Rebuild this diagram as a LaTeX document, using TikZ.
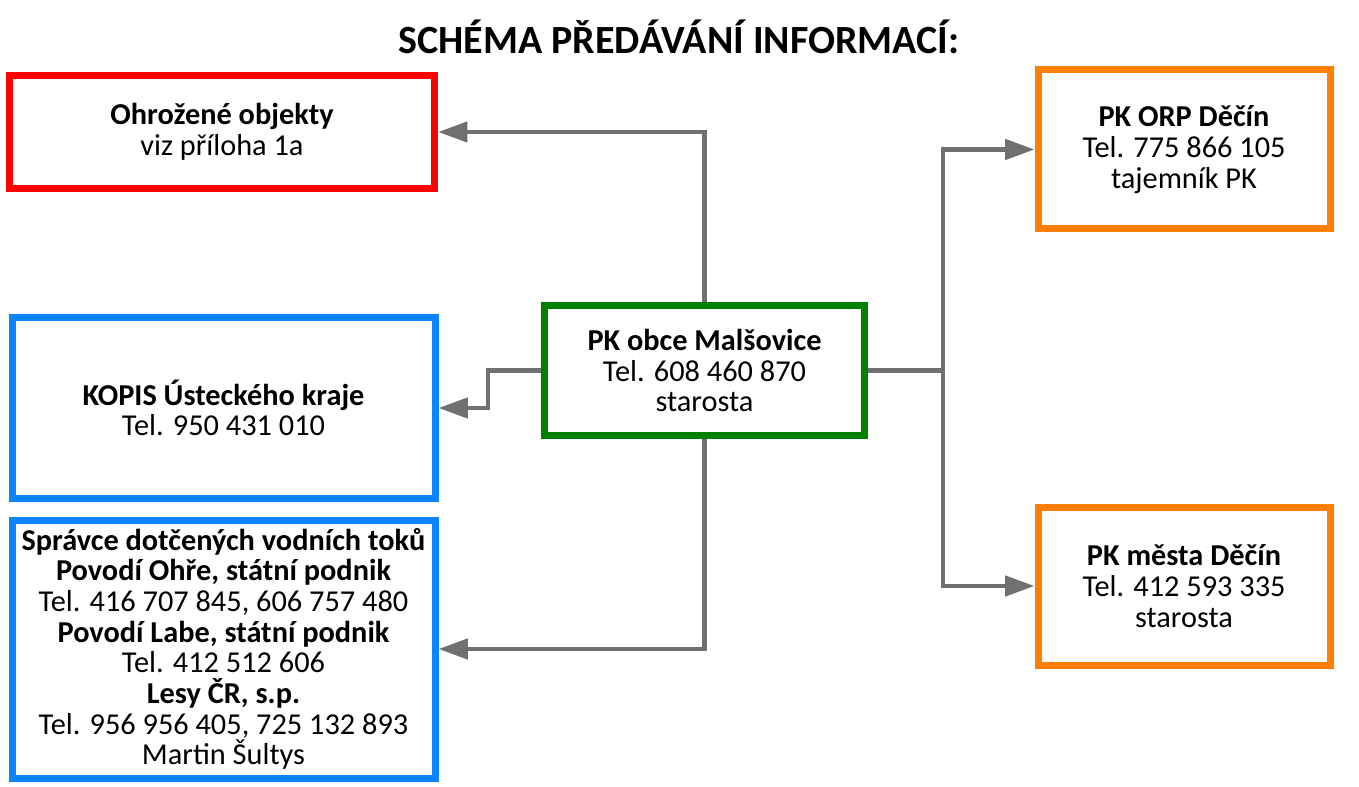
\documentclass[tikz,border=0pt]{standalone}
\usepackage{fontspec}
\setmainfont{Carlito}
\usetikzlibrary{arrows.meta}
\definecolor{cervena}{HTML}{FF0000}
\definecolor{modra}{HTML}{0A84FF}
\definecolor{zelena}{HTML}{008000}
\definecolor{oranzova}{HTML}{FF8000}
\definecolor{seda}{HTML}{707070}
\tikzset{
  box/.style={draw, line width=5.25pt, rectangle, inner sep=0pt, align=center,
    font=\fontsize{22.75}{23}\selectfont},
  spoj/.style={draw=seda, line width=3.4pt, -{Triangle[length=22pt,width=15pt]}},
}
\begin{document}
\begin{tikzpicture}[x=0.75pt,y=-0.75pt]
  \useasboundingbox (0,0) rectangle (1359,787);
  \node (titulek) at (679,37) [font=\fontsize{30}{33}\selectfont\bfseries] {SCHÉMA PŘEDÁVÁNÍ INFORMACÍ:};
  \node (ohrozene) at (222,132) [box, draw=cervena, minimum width=318.75pt, minimum height=84.75pt]
    {\textbf{Ohrožené objekty}\\viz příloha 1a};
  \node (kopis) at (223.5,408) [box, draw=modra, minimum width=317.25pt, minimum height=135pt]
    {\textbf{KOPIS Ústeckého kraje}\\Tel. 950 431 010};
  \node (spravce) at (223.5,649) [box, draw=modra, minimum width=317.25pt, minimum height=193.5pt]
    {\textbf{Správce dotčených vodních toků}\\\textbf{Povodí Ohře, státní podnik}\\Tel. 416 707 845, 606 757 480\\
     \textbf{Povodí Labe, státní podnik}\\Tel. 412 512 606\\\textbf{Lesy ČR, s.p.}\\Tel. 956 956 405, 725 132 893\\Martin Šultys};
  \node (obec) at (704.5,370.5) [box, draw=zelena, minimum width=240pt, minimum height=97.5pt]
    {\textbf{PK obce Malšovice}\\Tel. 608 460 870\\starosta};
  \node (orp) at (1184,149.5) [box, draw=oranzova, minimum width=219pt, minimum height=119.25pt]
    {\textbf{PK ORP Děčín}\\Tel. 775 866 105\\tajemník PK};
  \node (mesto) at (1184,586) [box, draw=oranzova, minimum width=219pt, minimum height=118.5pt]
    {\textbf{PK města Děčín}\\Tel. 412 593 335\\starosta};
  \coordinate (rozbocka) at (943,370.5);
  % spojnice
  \draw[spoj] (obec.north) |- (ohrozene.east);
  \draw[spoj] (obec.west) -- ++(-53,0) |- (kopis.east);
  \draw[spoj] (obec.south) |- (spravce.east);
  \draw[draw=seda, line width=3.4pt] (obec.east) -- (rozbocka);
  \draw[spoj] (rozbocka) |- (orp.west);
  \draw[spoj] (rozbocka) |- (mesto.west);
\end{tikzpicture}
\end{document}
